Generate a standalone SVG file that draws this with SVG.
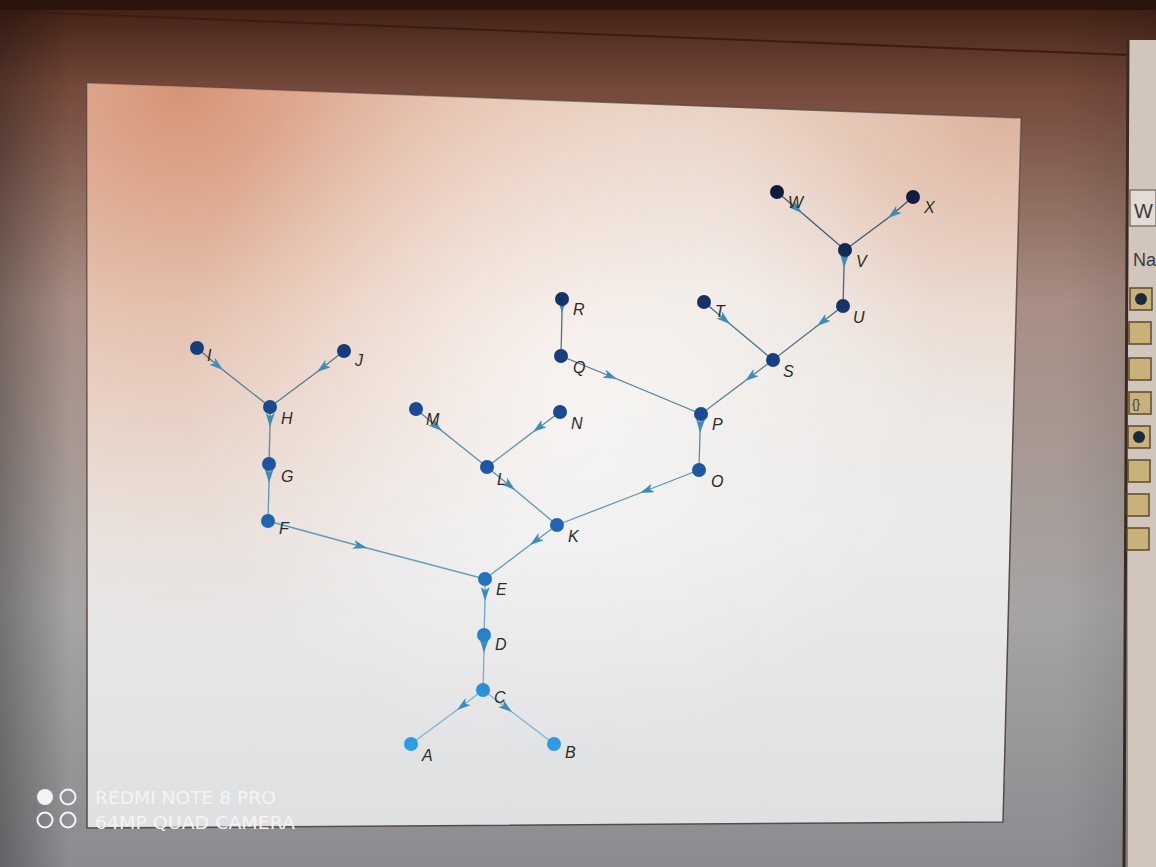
<svg xmlns="http://www.w3.org/2000/svg" width="1156" height="867" viewBox="0 0 1156 867">
<defs>
  <linearGradient id="bg" x1="0" y1="0" x2="0" y2="867" gradientUnits="userSpaceOnUse">
    <stop offset="0" stop-color="#3e1e12"/>
    <stop offset="0.1" stop-color="#74483a"/>
    <stop offset="0.35" stop-color="#a88e84"/>
    <stop offset="0.7" stop-color="#a6a4a4"/>
    <stop offset="1" stop-color="#8a8c90"/>
  </linearGradient>
  <linearGradient id="vig" x1="0" y1="0" x2="1156" y2="0" gradientUnits="userSpaceOnUse">
    <stop offset="0" stop-color="#000" stop-opacity="0.3"/>
    <stop offset="0.06" stop-color="#000" stop-opacity="0"/>
    <stop offset="0.92" stop-color="#000" stop-opacity="0"/>
    <stop offset="1" stop-color="#000" stop-opacity="0.12"/>
  </linearGradient>
  <linearGradient id="panel" x1="0" y1="83" x2="0" y2="828" gradientUnits="userSpaceOnUse">
    <stop offset="0" stop-color="#e6cbbb"/>
    <stop offset="0.3" stop-color="#ede5df"/>
    <stop offset="0.6" stop-color="#eaeaea"/>
    <stop offset="1" stop-color="#dfe0e2"/>
  </linearGradient>
  <radialGradient id="warm" cx="180" cy="90" r="560" gradientUnits="userSpaceOnUse">
    <stop offset="0" stop-color="#d58e6e" stop-opacity="0.9"/>
    <stop offset="0.5" stop-color="#e0a88c" stop-opacity="0.45"/>
    <stop offset="1" stop-color="#e8c0a8" stop-opacity="0"/>
  </radialGradient>
  <radialGradient id="warm2" cx="1000" cy="120" r="300" gradientUnits="userSpaceOnUse">
    <stop offset="0" stop-color="#d8a088" stop-opacity="0.6"/>
    <stop offset="1" stop-color="#e8c0a8" stop-opacity="0"/>
  </radialGradient>
  <radialGradient id="glow" cx="560" cy="380" r="380" gradientUnits="userSpaceOnUse">
    <stop offset="0" stop-color="#fff" stop-opacity="0.6"/>
    <stop offset="1" stop-color="#fff" stop-opacity="0"/>
  </radialGradient>
  <linearGradient id="nodeFill" x1="0" y1="190" x2="0" y2="750" gradientUnits="userSpaceOnUse">
    <stop offset="0" stop-color="#101c3c"/>
    <stop offset="0.45" stop-color="#1d4f9e"/>
    <stop offset="1" stop-color="#2e9ee6"/>
  </linearGradient>
  <linearGradient id="edgeStroke" x1="0" y1="190" x2="0" y2="750" gradientUnits="userSpaceOnUse">
    <stop offset="0" stop-color="#3a5468"/>
    <stop offset="0.5" stop-color="#5a92aa"/>
    <stop offset="1" stop-color="#80b8d8"/>
  </linearGradient>
  <marker id="arr" viewBox="0 0 14 9" refX="14" refY="4.5" markerWidth="14" markerHeight="9" markerUnits="userSpaceOnUse" orient="auto">
    <path d="M0,0 L14,4.5 L0,9 L3.5,4.5 Z" fill="#3f8cb6"/>
  </marker>
  <style>
    .edge{fill:none;stroke:url(#edgeStroke);stroke-width:1.3;marker-mid:url(#arr)}
    .node circle{fill:url(#nodeFill)}
    .node text{font-family:"Liberation Sans",Arial,sans-serif;font-size:16px;font-style:italic;fill:#2a2a2a}
    .wm{font-family:"DejaVu Sans","Liberation Sans",sans-serif;font-size:18px;fill:#f4f4f4}
    .ui{font-family:"Liberation Sans",Arial,sans-serif;fill:#3a3a3a}
    .icon{fill:#c8b27a;stroke:#5a4a30;stroke-width:1.5}
  </style>
</defs>

<!-- photo background -->
<rect x="0" y="0" width="1156" height="867" fill="url(#bg)"/>
<rect x="0" y="0" width="1156" height="867" fill="url(#vig)"/>
<rect x="0" y="0" width="1156" height="10" fill="#2a140c"/>
<path d="M25,12 L1130,55" stroke="#3a1d12" stroke-width="2" fill="none"/>

<!-- right UI strip -->
<rect x="1128" y="40" width="28" height="827" fill="#d2c6bc"/>
<line x1="1128" y1="40" x2="1124" y2="867" stroke="#3a2a22" stroke-width="3"/>
<rect x="1130" y="190" width="26" height="36" fill="#e4dcd4" stroke="#5a4a40" stroke-width="1"/>
<text class="ui" x="1134" y="218" font-size="20">W</text>
<text class="ui" x="1133" y="266" font-size="18">Na</text>
<rect class="icon" x="1130" y="288" width="22" height="22"/>
<circle cx="1141" cy="299" r="6" fill="#1a2a40"/>
<rect class="icon" x="1129" y="322" width="22" height="22"/>
<rect class="icon" x="1129" y="358" width="22" height="22"/>
<rect class="icon" x="1129" y="392" width="22" height="22"/>
<text class="ui" x="1132" y="408" font-size="12">{}</text>
<rect class="icon" x="1128" y="426" width="22" height="22"/>
<circle cx="1139" cy="437" r="6" fill="#1a2a40"/>
<rect class="icon" x="1128" y="460" width="22" height="22"/>
<rect class="icon" x="1127" y="494" width="22" height="22"/>
<rect class="icon" x="1127" y="528" width="22" height="22"/>

<!-- screen panel -->
<polygon points="87,83 1021,118 1003,822 87,828" fill="url(#panel)" stroke="#5a4a44" stroke-width="1.5"/>
<polygon points="87,83 1021,118 1003,822 87,828" fill="url(#warm)"/>
<polygon points="87,83 1021,118 1003,822 87,828" fill="url(#warm2)"/>
<polygon points="87,83 1021,118 1003,822 87,828" fill="url(#glow)"/>

<!-- connectors -->
<g id="edges">
  <path class="edge" d="M197,348 L223,370 L270,407"/>
  <path class="edge" d="M344,351 L317,372 L270,407"/>
  <path class="edge" d="M270,407 L270,427 L269,464"/>
  <path class="edge" d="M269,464 L269,483 L268,521"/>
  <path class="edge" d="M268,521 L367,548 L485,579"/>
  <path class="edge" d="M557,525 L530,545 L485,579"/>
  <path class="edge" d="M485,579 L485,601 L484,635"/>
  <path class="edge" d="M484,635 L484,653 L483,690"/>
  <path class="edge" d="M483,690 L457,710 L411,744"/>
  <path class="edge" d="M483,690 L512,712 L554,744"/>
  <path class="edge" d="M487,467 L515,490 L557,525"/>
  <path class="edge" d="M416,409 L442,431 L487,467"/>
  <path class="edge" d="M560,412 L533,432 L487,467"/>
  <path class="edge" d="M699,470 L640,493 L557,525"/>
  <path class="edge" d="M701,414 L700,433 L699,470"/>
  <path class="edge" d="M561,356 L617,379 L701,414"/>
  <path class="edge" d="M562,299 L562,313 L561,356"/>
  <path class="edge" d="M773,360 L745,381 L701,414"/>
  <path class="edge" d="M704,302 L730,324 L773,360"/>
  <path class="edge" d="M843,306 L817,326 L773,360"/>
  <path class="edge" d="M845,250 L844,268 L843,306"/>
  <path class="edge" d="M777,192 L802,213 L845,250"/>
  <path class="edge" d="M913,197 L888,218 L845,250"/>
</g>

<!-- nodes -->
<g id="node-A" class="node"><circle cx="411" cy="744" r="7"/><text x="422" y="761">A</text></g>
<g id="node-B" class="node"><circle cx="554" cy="744" r="7"/><text x="565" y="758">B</text></g>
<g id="node-C" class="node"><circle cx="483" cy="690" r="7"/><text x="494" y="703">C</text></g>
<g id="node-D" class="node"><circle cx="484" cy="635" r="7"/><text x="495" y="650">D</text></g>
<g id="node-E" class="node"><circle cx="485" cy="579" r="7"/><text x="496" y="595">E</text></g>
<g id="node-F" class="node"><circle cx="268" cy="521" r="7"/><text x="279" y="534">F</text></g>
<g id="node-G" class="node"><circle cx="269" cy="464" r="7"/><text x="281" y="482">G</text></g>
<g id="node-H" class="node"><circle cx="270" cy="407" r="7"/><text x="281" y="424">H</text></g>
<g id="node-I" class="node"><circle cx="197" cy="348" r="7"/><text x="207" y="361">I</text></g>
<g id="node-J" class="node"><circle cx="344" cy="351" r="7"/><text x="355" y="366">J</text></g>
<g id="node-K" class="node"><circle cx="557" cy="525" r="7"/><text x="568" y="542">K</text></g>
<g id="node-L" class="node"><circle cx="487" cy="467" r="7"/><text x="497" y="485">L</text></g>
<g id="node-M" class="node"><circle cx="416" cy="409" r="7"/><text x="426" y="425">M</text></g>
<g id="node-N" class="node"><circle cx="560" cy="412" r="7"/><text x="571" y="429">N</text></g>
<g id="node-O" class="node"><circle cx="699" cy="470" r="7"/><text x="711" y="487">O</text></g>
<g id="node-P" class="node"><circle cx="701" cy="414" r="7"/><text x="712" y="430">P</text></g>
<g id="node-Q" class="node"><circle cx="561" cy="356" r="7"/><text x="573" y="373">Q</text></g>
<g id="node-R" class="node"><circle cx="562" cy="299" r="7"/><text x="573" y="315">R</text></g>
<g id="node-S" class="node"><circle cx="773" cy="360" r="7"/><text x="783" y="377">S</text></g>
<g id="node-T" class="node"><circle cx="704" cy="302" r="7"/><text x="715" y="317">T</text></g>
<g id="node-U" class="node"><circle cx="843" cy="306" r="7"/><text x="853" y="323">U</text></g>
<g id="node-V" class="node"><circle cx="845" cy="250" r="7"/><text x="856" y="267">V</text></g>
<g id="node-W" class="node"><circle cx="777" cy="192" r="7"/><text x="788" y="208">W</text></g>
<g id="node-X" class="node"><circle cx="913" cy="197" r="7"/><text x="924" y="213">X</text></g>

<!-- camera watermark -->
<g id="watermark">
  <circle cx="45" cy="797" r="8" fill="#f4f4f4"/>
  <circle cx="68" cy="797" r="7.5" fill="none" stroke="#f4f4f4" stroke-width="2"/>
  <circle cx="45" cy="820" r="7.5" fill="none" stroke="#f4f4f4" stroke-width="2"/>
  <circle cx="68" cy="820" r="7.5" fill="none" stroke="#f4f4f4" stroke-width="2"/>
  <text class="wm" x="95" y="804" textLength="181" lengthAdjust="spacingAndGlyphs">REDMI NOTE 8 PRO</text>
  <text class="wm" x="95" y="829" textLength="200" lengthAdjust="spacingAndGlyphs">64MP QUAD CAMERA</text>
</g>
</svg>
